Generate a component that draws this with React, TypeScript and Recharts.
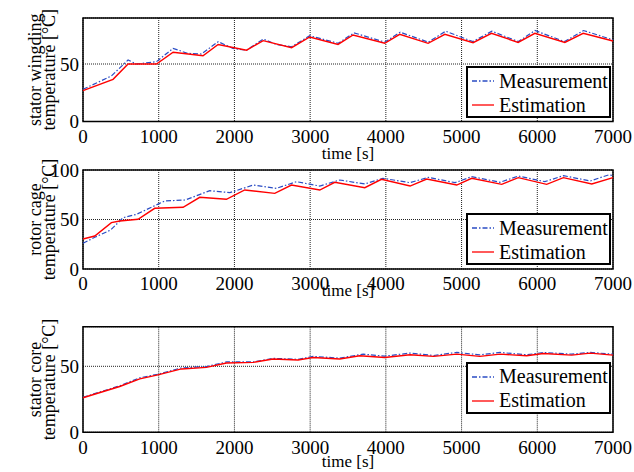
import { LineChart, Line, XAxis, YAxis, CartesianGrid, Legend, ReferenceArea } from 'recharts'

// time axis
const timeTicks = [0, 1000, 2000, 3000, 4000, 5000, 6000, 7000]

// stator winding
const windingMeasTime = [0, 375, 595, 705, 970, 1190, 1380, 1565, 1785, 1980, 2160, 2380, 2555, 2755, 2995, 3370, 3580, 3985, 4190, 4560, 4790, 5150, 5400, 5750, 5970, 6360, 6610, 7000]
const windingMeasTemp = [28, 39.6, 53.5, 50, 52, 63.6, 59.3, 58.7, 69.4, 63.6, 62, 71.7, 67, 65, 74.6, 68, 77.1, 69, 77.6, 69, 78.5, 69.5, 78.5, 69.5, 79.1, 69.5, 79.1, 71]
const windingEstTime = [0, 397, 595, 970, 1190, 1585, 1785, 2160, 2380, 2755, 2995, 3368, 3567, 3985, 4183, 4558, 4779, 5152, 5395, 5747, 5968, 6364, 6606, 7000]
const windingEstTemp = [26.8, 36.7, 50, 50, 60.2, 57.2, 67, 62, 70.3, 64.2, 73.5, 67, 75.2, 68, 75.8, 68, 75.8, 68.5, 76.7, 68.8, 76.7, 68.8, 76.7, 70]

// rotor cage
const cageMeasTime = [0, 155, 365, 530, 705, 1080, 1350, 1675, 1940, 2248, 2555, 2820, 3127, 3390, 3722, 3960, 4320, 4560, 4915, 5134, 5510, 5750, 6100, 6345, 6700, 6940, 7000]
const cageMeasTemp = [26, 32, 39.4, 51.8, 55.2, 68.7, 69.7, 79.1, 77.1, 84.8, 81.5, 88.2, 83.8, 89.9, 85.9, 91.6, 87.2, 92.6, 87.2, 93.3, 87.6, 93.9, 88.2, 94.3, 88.9, 95, 94.5]
const cageEstTime = [0, 155, 375, 485, 727, 947, 1322, 1542, 1894, 2136, 2533, 2753, 3127, 3325, 3722, 3942, 4320, 4540, 4936, 5134, 5530, 5750, 6124, 6345, 6720, 7000]
const cageEstTemp = [30.3, 33.3, 46.8, 48.5, 50.2, 61.3, 62.3, 72.4, 70.4, 79.8, 76.4, 84.8, 79.8, 87.6, 82.1, 90.6, 83.8, 90.9, 84.8, 91.6, 85.5, 92.3, 85.5, 92.3, 85.9, 92.3]

// stator core
const coreMeasTime = [0, 485, 750, 990, 1300, 1630, 1894, 2250, 2510, 2840, 3040, 3390, 3700, 3985, 4320, 4630, 4936, 5240, 5510, 5860, 6080, 6455, 6700, 7000]
const coreMeasTemp = [26.5, 35.2, 41.3, 44, 48.8, 49.8, 53.3, 53.3, 56, 55.3, 57.5, 56.2, 59.2, 57.7, 60, 58.2, 60.5, 58.7, 60.5, 58.7, 60.5, 59.2, 60.5, 59.2]
const coreEstTime = [0, 485, 750, 990, 1300, 1630, 1894, 2250, 2510, 2840, 3040, 3390, 3655, 3985, 4320, 4630, 4936, 5240, 5510, 5860, 6080, 6455, 6700, 7000]
const coreEstTemp = [26.2, 34.7, 40.5, 43.5, 48, 49.2, 52.5, 53, 55.5, 54.8, 56.7, 55.5, 58, 56.7, 58.7, 57.5, 59.2, 57.5, 59.2, 58, 59.7, 58.5, 60, 58.5]

const seriesNames = ['Measurement', 'Estimation']

const SERIF = 'Liberation Serif, Tinos, DejaVu Serif, serif'
const BLUE = '#2a4cc4'
const RED = '#ff0000'
const DASH = '5 2 1.5 2'

const toPoints = (ts: number[], vs: number[]) => ts.map((t, i) => ({ t, v: vs[i] }))

const tickStyle = { fontFamily: SERIF, fontSize: 19, fill: '#000' }

function LegendBox({ payload }: any) {
  const items = [...(payload || [])].sort(
    (a: any, b: any) => seriesNames.indexOf(a.value) - seriesNames.indexOf(b.value)
  )
  return (
    <div
      style={{
        width: 145,
        height: 52,
        border: '2px solid #000',
        background: '#fff',
        boxSizing: 'border-box',
        fontFamily: SERIF,
        fontSize: 20,
        color: '#000',
        paddingTop: 1,
      }}
    >
      {items.map((item: any) => (
        <div key={item.value} style={{ display: 'flex', alignItems: 'center', height: 24 }}>
          <svg width={26} height={10} style={{ marginLeft: 4, marginRight: 1 }}>
            <line
              x1={0}
              y1={5}
              x2={22}
              y2={5}
              stroke={item.color}
              strokeWidth={1.3}
              strokeDasharray={item.value === 'Measurement' ? DASH : undefined}
            />
          </svg>
          <span>{item.value}</span>
        </div>
      ))}
    </div>
  )
}

function AxisTitle({ viewBox, lines }: any) {
  const cy = viewBox.y + viewBox.height / 2
  const baselines = [41, 55]
  return (
    <g>
      {lines.map((l: string, i: number) => (
        <text
          key={l}
          x={baselines[i]}
          y={cy}
          transform={`rotate(-90, ${baselines[i]}, ${cy})`}
          textAnchor="middle"
          style={{ fontFamily: SERIF, fontSize: 18 }}
          fill="#000"
        >
          {l}
        </text>
      ))}
    </g>
  )
}

type PanelProps = {
  top: number
  height: number
  plotTop: number
  plotBottom: number
  yMax: number
  yTicks: number[]
  title: string[]
  meas: { t: number; v: number }[]
  est: { t: number; v: number }[]
  legendTop: number
  xLabelOffset: number
}

function Panel({ top, height, plotTop, plotBottom, yMax, yTicks, title, meas, est, legendTop, xLabelOffset }: PanelProps) {
  return (
    <div style={{ position: 'absolute', left: 0, top, fontFamily: SERIF }}>
      <LineChart width={634} height={height} margin={{ top: plotTop, right: 21, bottom: 0, left: 0 }} style={{ fontFamily: SERIF }}>
        <CartesianGrid stroke="#222" strokeDasharray="1 1" />
        <XAxis
          type="number"
          dataKey="t"
          domain={[0, 7000]}
          ticks={timeTicks}
          interval={0}
          height={height - plotBottom}
          tickSize={0}
          tickMargin={8}
          axisLine={false}
          tick={tickStyle}
          label={{ value: 'time [s]', position: 'insideBottom', offset: xLabelOffset, style: { fontFamily: SERIF, fontSize: 17, fill: '#000' } }}
        />
        <YAxis
          type="number"
          domain={[0, yMax]}
          ticks={yTicks}
          interval={0}
          width={83}
          tickSize={0}
          tickMargin={4}
          axisLine={false}
          tick={tickStyle}
          label={{ content: (p: any) => <AxisTitle {...p} lines={title} /> }}
        />
        <ReferenceArea x1={0} x2={7000} y1={0} y2={yMax} fill="none" fillOpacity={0} stroke="#000" strokeWidth={1.5} />
        <Line
          data={meas}
          dataKey="v"
          name="Measurement"
          type="linear"
          stroke={BLUE}
          strokeWidth={1.2}
          strokeDasharray={DASH}
          dot={false}
          isAnimationActive={false}
        />
        <Line
          data={est}
          dataKey="v"
          name="Estimation"
          type="linear"
          stroke={RED}
          strokeWidth={1.4}
          dot={false}
          isAnimationActive={false}
        />
        <Legend
          layout="vertical"
          align="center"
          verticalAlign="middle"
          content={<LegendBox />}
          wrapperStyle={{ left: 466, top: legendTop, width: 145 }}
        />
      </LineChart>
    </div>
  )
}

export default function App() {
  return (
    <div style={{ position: 'absolute', left: 0, top: 0, width: 634, height: 472, background: '#fff' }}>
      <Panel
        top={0}
        height={162}
        plotTop={18}
        plotBottom={121.5}
        yMax={90}
        yTicks={[0, 50]}
        title={['stator wingding', 'temperature [°C]']}
        meas={toPoints(windingMeasTime, windingMeasTemp)}
        est={toPoints(windingEstTime, windingEstTemp)}
        legendTop={66}
        xLabelOffset={3.5}
      />
      <Panel
        top={150}
        height={152}
        plotTop={20}
        plotBottom={119}
        yMax={100}
        yTicks={[0, 50, 100]}
        title={['rotor cage', 'temperature [°C]']}
        meas={toPoints(cageMeasTime, cageMeasTemp)}
        est={toPoints(cageEstTime, cageEstTemp)}
        legendTop={63}
        xLabelOffset={6}
      />
      <Panel
        top={300}
        height={172}
        plotTop={26.7}
        plotBottom={132.3}
        yMax={80}
        yTicks={[0, 50]}
        title={['stator core', 'temperature [°C]']}
        meas={toPoints(coreMeasTime, coreMeasTemp)}
        est={toPoints(coreEstTime, coreEstTemp)}
        legendTop={61.7}
        xLabelOffset={5.3}
      />
    </div>
  )
}
